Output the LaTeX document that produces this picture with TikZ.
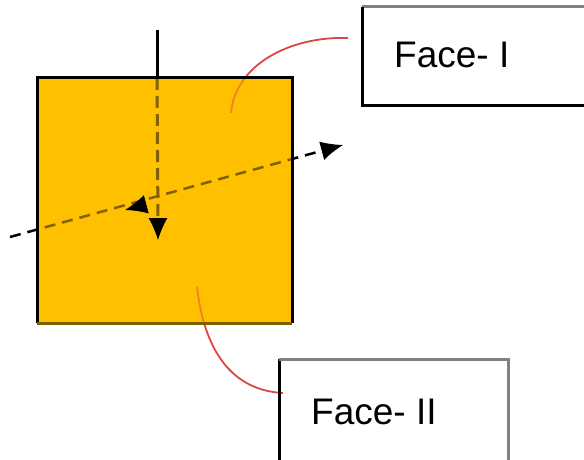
\documentclass[tikz,border=0pt]{standalone}
\usepackage{fontspec}
\setmainfont{Liberation Sans}
\usetikzlibrary{arrows.meta}
\definecolor{sqfill}{HTML}{FFC000}
\definecolor{darkgold}{HTML}{7F6000}
\definecolor{leader}{RGB}{222,70,70}
\definecolor{boxgray}{HTML}{808080}
\begin{document}
\begin{tikzpicture}[x=1pt,y=-1pt,
  axisline/.style={line width=3pt, black},
  dashaxis/.style={line width=3pt, black, dash pattern=on 12pt off 6pt},
  diagaxis/.style={line width=2.5pt, black, dash pattern=on 11pt off 7pt},
  leaderline/.style={line width=1.8pt, leader},
  headonly/.style={line width=1pt, -{Latex[length=22pt,width=19pt]}},
  labelbox/.style={draw=none, inner sep=0pt, anchor=north west},
  lbl/.style={font=\fontsize{37}{40}\selectfont, inner sep=0pt, anchor=base west},
  edge/.style={line width=3pt}
]
\useasboundingbox (0,0) rectangle (584,460);
% coordinates
\coordinate (vtop) at (157,30);
\coordinate (vin) at (157,78);
\coordinate (vtip) at (158,240);
\coordinate (vpre) at (158,225);
\coordinate (dl) at (10,237);
\coordinate (dr) at (343,145);
\coordinate (drpre) at (330,148.5);
\coordinate (ctip) at (125,210);
\coordinate (cpre) at (140,206);
\coordinate (f1start) at (348,38);
\coordinate (f1end) at (231,113);
\coordinate (f2start) at (197,287);
\coordinate (f2end) at (283,393);
% square
\node[draw=none, fill=sqfill, minimum width=255pt, minimum height=245pt, inner sep=0pt, anchor=north west] (sq) at (37,78) {};
% lines
\draw[axisline] (vtop) -- (vin);
\draw[dashaxis] (vin) -- (vpre);
\draw[diagaxis] (dl) -- (drpre);
\draw[leaderline] (f1start) .. controls (290,36) and (235,65) .. (f1end);
\draw[leaderline] (f2start) .. controls (203,340) and (225,390) .. (f2end);
% tint overlay
\fill[sqfill, fill opacity=0.5] (sq.north west) rectangle (sq.south east);
% square border
\draw[edge, black] (sq.south west) -- (sq.north west) -- (sq.north east) -- (sq.south east);
\draw[edge, darkgold] (sq.south west) -- (sq.south east);
% arrowheads
\draw[headonly] (vpre) -- (vtip);
\draw[headonly] (cpre) -- (ctip);
\draw[headonly] (drpre) -- (dr);
% boxes
\node[labelbox, minimum width=240pt, minimum height=98pt] (b1) at (362,7) {};
\draw[edge, boxgray] (b1.north west) -- (b1.north east);
\draw[edge, black] (b1.north west) -- (b1.south west) -- (b1.south east);
\node[lbl] (t1) at (394,68) {Face- I};
\node[labelbox, minimum width=229pt, minimum height=110pt] (b2) at (279,359) {};
\draw[edge, black] (b2.south west) -- (b2.north west);
\draw[edge, boxgray] (b2.north west) -- (b2.north east) -- (b2.south east);
\node[lbl] (t2) at (311,424) {Face- II};
\end{tikzpicture}
\end{document}
